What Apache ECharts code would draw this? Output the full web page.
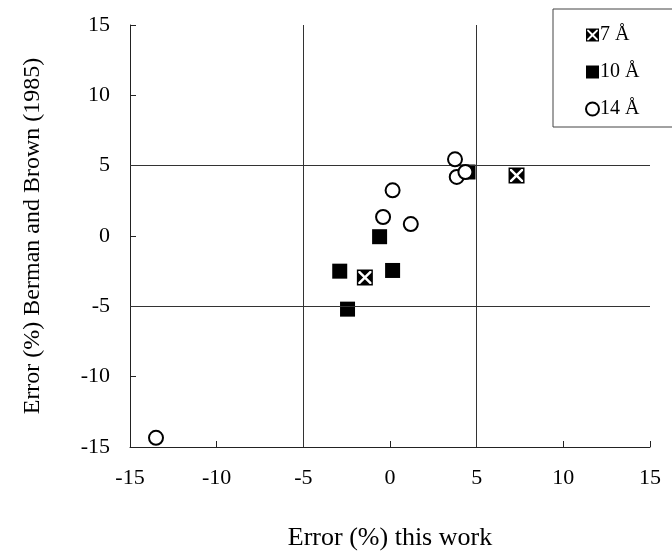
<!DOCTYPE html>
<html>
<head>
<meta charset="utf-8">
<script src="https://cdn.jsdelivr.net/npm/echarts@6/dist/echarts.min.js"></script>
<style>
  html, body { margin: 0; padding: 0; background: #fff; }
  #chart { width: 672px; height: 551px; }
</style>
</head>
<body>
<div id="chart"></div>
<script>
// values: [this work, Berman and Brown (1985)]
const seriesNames = ['7 Å', '10 Å', '14 Å']
const points7 = [[7.3, 4.3], [-1.45, -2.95]]
const points10 = [[-2.9, -2.5], [-0.6, -0.05], [0.15, -2.45], [-2.45, -5.2], [4.5, 4.55]]
const points14 = [[3.75, 5.45], [3.85, 4.2], [4.35, 4.55], [0.15, 3.25], [-0.4, 1.35], [1.2, 0.85], [-13.5, -14.35]]
const guideX = [-5, 5]
const guideY = [-5, 5]

// square with a white X cut through it
const crossSquare = 'path://M0 0L100 0L100 100L0 100Z M9 9L9 91L91 91L91 9Z' +
  'M20 9L80 9L50 39Z M91 20L91 80L61 50Z M20 91L80 91L50 61Z M9 20L9 80L39 50Z'

const font = 'Liberation Serif'
const ink = '#000'

const chart = echarts.init(document.getElementById('chart'))

const guides = [
  ...guideX.map(v => ({ xAxis: v })),
  ...guideY.map(v => ({ yAxis: v }))
]

const axisCommon = {
  type: 'value',
  min: -15,
  max: 15,
  interval: 5,
  nameLocation: 'middle',
  nameTextStyle: { fontFamily: font, fontSize: 24, color: ink },
  axisLine: { show: true, onZero: false, lineStyle: { color: '#222', width: 1 } },
  axisTick: { show: true, inside: true, length: 6, lineStyle: { color: '#222' } },
  axisLabel: { fontFamily: font, fontSize: 22, color: ink, margin: 20 },
  splitLine: { show: false }
}

chart.setOption({
  animation: false,
  backgroundColor: '#fff',
  grid: { left: 130, right: 22, top: 25, bottom: 104, outerBoundsMode: 'none' },
  xAxis: Object.assign({}, axisCommon, {
    name: 'Error (%) this work',
    nameGap: 78,
    nameTextStyle: Object.assign({}, axisCommon.nameTextStyle, { fontSize: 26 })
  }),
  yAxis: Object.assign({}, axisCommon, {
    name: 'Error (%) Berman and Brown (1985)',
    nameGap: 85
  }),
  legend: {
    orient: 'vertical',
    left: 553,
    top: 9,
    padding: [16, 80, 8, 32],
    itemGap: 17,
    itemWidth: 13,
    itemHeight: 13,
    borderColor: '#444',
    borderWidth: 1,
    textStyle: { fontFamily: font, fontSize: 20, color: ink, padding: [0, 0, 0, -4] },
    data: [
      { name: seriesNames[0], icon: crossSquare },
      { name: seriesNames[1], icon: 'rect' },
      { name: seriesNames[2], icon: 'circle', itemStyle: { color: '#fff', borderColor: ink, borderWidth: 2 } }
    ]
  },
  series: [
    {
      name: seriesNames[0],
      type: 'scatter',
      symbol: crossSquare,
      symbolSize: 16,
      itemStyle: { color: ink, opacity: 1 },
      data: points7,
      markLine: {
        silent: true,
        symbol: 'none',
        label: { show: false },
        lineStyle: { color: '#333', width: 1, type: 'solid' },
        data: guides
      },
      z: 3
    },
    {
      name: seriesNames[1],
      type: 'scatter',
      symbol: 'rect',
      symbolSize: 15,
      itemStyle: { color: ink, opacity: 1 },
      data: points10,
      z: 4
    },
    {
      name: seriesNames[2],
      type: 'scatter',
      symbol: 'circle',
      symbolSize: 14,
      itemStyle: { color: '#fff', borderColor: ink, borderWidth: 2, opacity: 1 },
      data: points14,
      z: 5
    }
  ]
})
</script>
</body>
</html>
